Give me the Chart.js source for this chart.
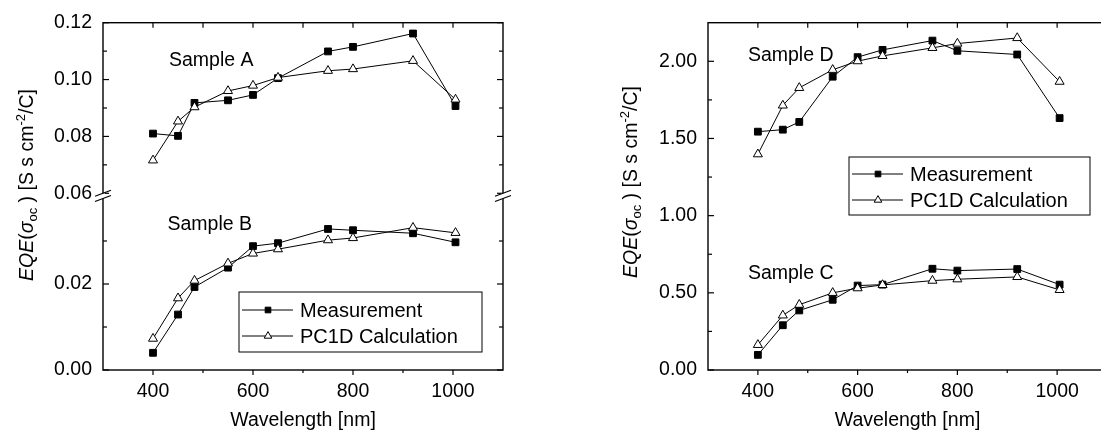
<!DOCTYPE html>
<html>
<head>
<meta charset="utf-8">
<script src="https://cdn.jsdelivr.net/npm/chart.js@4.4.0/dist/chart.umd.min.js"></script>
<style>
  html, body { margin: 0; padding: 0; background: #fff; overflow: hidden; width: 1101px; height: 432px; }
  canvas { position: absolute; top: 0; }
  #left-chart { left: 0; }
  #right-chart { left: 560px; }
</style>
</head>
<body>
<canvas id="left-chart" width="540" height="432"></canvas>
<canvas id="right-chart" width="560" height="432"></canvas>
<script>
// --- DATA ---
// wavelengths shared by every sample (nm)
const wavelengths = [400, 450, 483, 550, 600, 650, 750, 800, 920, 1005];

const sampleAMeasured = [0.0810, 0.0802, 0.0918, 0.0927, 0.0946, 0.1005, 0.1099, 0.1115, 0.1162, 0.0907];
const sampleACalc     = [0.0716, 0.0853, 0.0903, 0.0960, 0.0979, 0.1007, 0.1031, 0.1037, 0.1066, 0.0930];
const sampleBMeasured = [0.0040, 0.0129, 0.0193, 0.0238, 0.0288, 0.0295, 0.0328, 0.0325, 0.0318, 0.0297];
const sampleBCalc     = [0.0073, 0.0167, 0.0208, 0.0248, 0.0271, 0.0281, 0.0302, 0.0307, 0.0331, 0.0319];

const sampleCMeasured = [0.098, 0.290, 0.386, 0.455, 0.547, 0.553, 0.656, 0.644, 0.654, 0.553];
const sampleCCalc     = [0.163, 0.354, 0.423, 0.500, 0.530, 0.551, 0.579, 0.588, 0.603, 0.519];
const sampleDMeasured = [1.544, 1.557, 1.607, 1.900, 2.027, 2.074, 2.134, 2.068, 2.044, 1.632];
const sampleDCalc     = [1.398, 1.714, 1.828, 1.945, 2.001, 2.035, 2.087, 2.115, 2.151, 1.868];

// tick positions
const xTickValues = [400, 500, 600, 700, 800, 900, 1000];
const upperTickValues = [0.06, 0.07, 0.08, 0.09, 0.10, 0.11, 0.12];
const lowerTickValues = [0.00, 0.01, 0.02, 0.03];
const rightTickValues = [0, 0.25, 0.5, 0.75, 1.0, 1.25, 1.5, 1.75, 2.0];

const seriesNames = ['Measurement', 'PC1D Calculation'];

// --- STYLE ---
const FAMILY = '"Liberation Sans", Arial, Helvetica, sans-serif';
const tickFont = { family: FAMILY, size: 19.5 };

const toPoints = values => values.map((v, i) => ({ x: wavelengths[i], y: v }));

function measuredSet(values, axis) {
    return {
        label: seriesNames[0], data: toPoints(values), yAxisID: axis, order: 1,
        borderColor: '#000', borderWidth: 1, tension: 0, fill: false,
        pointStyle: 'rect', pointRadius: 4.8,
        pointBackgroundColor: '#000', pointBorderColor: '#000', pointBorderWidth: 1
    };
}

function calcSet(values, axis) {
    return {
        label: seriesNames[1], data: toPoints(values), yAxisID: axis, order: 0,
        borderColor: '#000', borderWidth: 1, tension: 0, fill: false,
        pointStyle: 'triangle', pointRadius: 5.2,
        pointBackgroundColor: '#fff', pointBorderColor: '#000', pointBorderWidth: 1
    };
}

function line(ctx, x0, y0, x1, y1) {
    ctx.beginPath();
    ctx.moveTo(x0, y0);
    ctx.lineTo(x1, y1);
    ctx.stroke();
}

// rotated axis title: EQE(σoc ) [S s cm-2/C]
function drawYTitle(ctx, baseX, centerY) {
    const big = 19.5, small = 13;
    const parts = [
        { t: 'EQE', font: `italic ${big}px ${FAMILY}`, dy: 0 },
        { t: '(', font: `${big}px ${FAMILY}`, dy: 0 },
        { t: 'σ', font: `italic ${big}px ${FAMILY}`, dy: 0 },
        { t: 'oc', font: `${small}px ${FAMILY}`, dy: 4 },
        { t: ' ) [S s cm', font: `${big}px ${FAMILY}`, dy: 0 },
        { t: '-2', font: `${small}px ${FAMILY}`, dy: -8 },
        { t: '/C]', font: `${big}px ${FAMILY}`, dy: 0 }
    ];
    let total = 0;
    parts.forEach(p => { ctx.font = p.font; p.w = ctx.measureText(p.t).width; total += p.w; });
    ctx.save();
    ctx.translate(baseX, centerY);
    ctx.rotate(-Math.PI / 2);
    ctx.fillStyle = '#000';
    ctx.textAlign = 'left';
    ctx.textBaseline = 'alphabetic';
    let x = -total / 2;
    parts.forEach(p => { ctx.font = p.font; ctx.fillText(p.t, x, p.dy); x += p.w; });
    ctx.restore();
}

// frame, inward/outward ticks, axis break, sample labels, legend box, y title
const decorPlugin = {
    id: 'decor',
    afterDraw(chart, args, opts) {
        const ctx = chart.ctx;
        const area = chart.chartArea;
        ctx.save();
        ctx.strokeStyle = '#000';

        ctx.lineWidth = 1.4;
        ctx.strokeRect(area.left, area.top, area.width, area.height);

        ctx.lineWidth = 1.2;
        const xs = chart.scales.x;
        xs.ticks.forEach(t => {
            const px = xs.getPixelForValue(t.value);
            const major = t.label !== '';
            line(ctx, px, area.bottom, px, area.bottom + (major ? 5 : 3));
            line(ctx, px, area.top, px, area.top + 5);
        });
        Object.values(chart.scales).filter(s => s.axis === 'y').forEach(s => {
            s.ticks.forEach(t => {
                const py = s.getPixelForValue(t.value);
                const len = t.label !== '' ? 6 : 4;
                line(ctx, area.left, py, area.left + len, py);
                line(ctx, area.right - len, py, area.right, py);
            });
        });

        if (opts.breakAxis) {
            const y = chart.scales[opts.breakAxis].bottom;
            const g = 2.6;
            [area.left, area.right].forEach(x => {
                ctx.fillStyle = '#fff';
                ctx.fillRect(x - 2, y - g, 4, 2 * g);
                ctx.lineWidth = 1.2;
                line(ctx, x - 8, y - g + 3, x + 8, y - g - 3);
                line(ctx, x - 8, y + g + 3, x + 8, y + g - 3);
            });
        }

        ctx.fillStyle = '#000';
        ctx.font = `19.5px ${FAMILY}`;
        ctx.textAlign = 'left';
        ctx.textBaseline = 'alphabetic';
        (opts.labels || []).forEach(l => {
            ctx.fillText(l.text, xs.getPixelForValue(l.x), chart.scales[l.axis].getPixelForValue(l.y));
        });

        const lg = opts.legend;
        if (lg) {
            ctx.lineWidth = 1;
            ctx.strokeRect(lg.left, lg.top, lg.width, lg.height);
            const styles = chart.data.datasets.slice(0, 2);
            seriesNames.forEach((name, i) => {
                const ds = chart.data.datasets.find(d => d.label === name);
                const y = lg.top + lg.rowY[i];
                ctx.strokeStyle = '#000';
                ctx.lineWidth = 1;
                line(ctx, lg.left + 3, y, lg.left + 54, y);
                ctx.fillStyle = ds.pointBackgroundColor;
                ctx.strokeStyle = ds.pointBorderColor;
                Chart.helpers.drawPoint(ctx, {
                    pointStyle: ds.pointStyle, radius: ds.pointRadius - 0.8,
                    rotation: 0, borderWidth: 1
                }, lg.left + 29, y);
                ctx.fillStyle = '#000';
                ctx.font = `20px ${FAMILY}`;
                ctx.fillText(name, lg.left + 61, y + 7);
            });
        }

        if (opts.yTitle) drawYTitle(ctx, opts.yTitle.x, opts.yTitle.y);
        ctx.restore();
    }
};

function xScale(height) {
    return {
        type: 'linear', min: 300, max: 1100,
        afterBuildTicks: s => { s.ticks = xTickValues.map(v => ({ value: v })); },
        afterFit: s => { s.height = height; },
        ticks: {
            font: tickFont, color: '#000', padding: 10, autoSkip: false, maxRotation: 0,
            callback: v => (v % 200 === 0 ? String(v) : '')
        },
        grid: { display: false, drawTicks: false },
        border: { display: false },
        title: { display: true, text: 'Wavelength [nm]', color: '#000', font: tickFont, padding: 0 }
    };
}

function yScale(min, max, tickValues, width, labelStep, extra) {
    return Object.assign({
        type: 'linear', position: 'left', min, max,
        afterBuildTicks: s => { s.ticks = tickValues.map(v => ({ value: v })); },
        afterFit: s => { s.width = width; },
        ticks: {
            font: tickFont, color: '#000', padding: 11, autoSkip: false,
            callback: v => (Math.round(v * 100) % labelStep === 0 ? v.toFixed(2) : '')
        },
        grid: { display: false, drawTicks: false },
        border: { display: false }
    }, extra);
}

const common = {
    responsive: false,
    animation: false,
    events: [],
    devicePixelRatio: 1
};

// --- LEFT PANEL: samples A and B on a broken axis ---
new Chart(document.getElementById('left-chart'), {
    type: 'line',
    data: {
        datasets: [
            measuredSet(sampleAMeasured, 'yA'), calcSet(sampleACalc, 'yA'),
            measuredSet(sampleBMeasured, 'yB'), calcSet(sampleBCalc, 'yB')
        ]
    },
    options: Object.assign({}, common, {
        layout: { padding: { top: 20, right: 37, left: 0, bottom: 0 } },
        scales: {
            x: xScale(62),
            yB: yScale(0, 0.0405, lowerTickValues, 103, 2, { stack: 'left', stackWeight: 175.5, weight: 0 }),
            yA: yScale(0.0591, 0.12, upperTickValues, 103, 2, { stack: 'left', stackWeight: 174.5, weight: 1 })
        },
        plugins: {
            legend: { display: false },
            tooltip: { enabled: false },
            decor: {
                breakAxis: 'yA',
                labels: [
                    { text: 'Sample A', x: 432, y: 0.1049, axis: 'yA' },
                    { text: 'Sample B', x: 429, y: 0.0325, axis: 'yB' }
                ],
                legend: { left: 239, top: 292, width: 243, height: 60, rowY: [18, 44] },
                yTitle: { x: 33, y: 185 }
            }
        }
    }),
    plugins: [decorPlugin]
});

// --- RIGHT PANEL: samples C and D ---
new Chart(document.getElementById('right-chart'), {
    type: 'line',
    data: {
        datasets: [
            measuredSet(sampleDMeasured, 'y'), calcSet(sampleDCalc, 'y'),
            measuredSet(sampleCMeasured, 'y'), calcSet(sampleCCalc, 'y')
        ]
    },
    options: Object.assign({}, common, {
        layout: { padding: { top: 20, right: 13, left: 0, bottom: 0 } },
        scales: {
            x: xScale(62),
            y: yScale(0, 2.25, rightTickValues, 148, 50, {})
        },
        plugins: {
            legend: { display: false },
            tooltip: { enabled: false },
            decor: {
                labels: [
                    { text: 'Sample D', x: 380, y: 2.0, axis: 'y' },
                    { text: 'Sample C', x: 380, y: 0.588, axis: 'y' }
                ],
                legend: { left: 289, top: 157, width: 241, height: 58, rowY: [17, 43] },
                yTitle: { x: 77, y: 182 }
            }
        }
    }),
    plugins: [decorPlugin]
});
</script>
</body>
</html>
